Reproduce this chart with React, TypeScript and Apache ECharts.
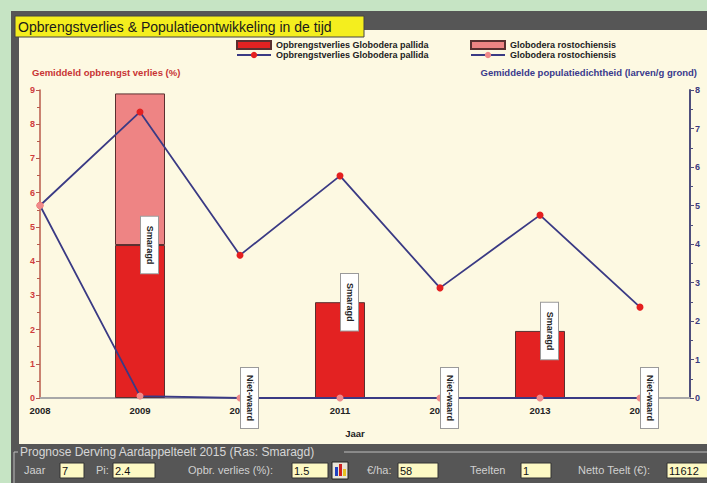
import React, { useEffect, useRef } from "react";
import * as echarts from "echarts";

// ---- data ----
const years = [2008, 2009, 2010, 2011, 2012, 2013, 2014];
const pallidaLoss = [null, 4.47, null, 2.8, null, 1.96, null];
const rostochiensisLoss = [null, 4.43, null, null, null, null, null];
const pallidaPop = [5.0, 7.43, 3.71, 5.77, 2.86, 4.75, 2.36];
const rostochiensisPop = [5.0, 0.05, 0, 0, 0, 0, 0];
const varietyLabels = ["", "Smaragd", "Niet-waard", "Smaragd", "Niet-waard", "Smaragd", "Niet-waard"];

const titleText = "Opbrengstverlies & Populatieontwikkeling in de tijd";
const leftAxisTitle = "Gemiddeld opbrengst verlies (%)";
const rightAxisTitle = "Gemiddelde populatiedichtheid (larven/g grond)";
const xAxisTitle = "Jaar";
const legendNames = {
  pallidaBar: "Opbrengstverlies Globodera pallida",
  pallidaLine: "Opbrengstverlies Globodera pallida",
  rostoBar: "Globodera rostochiensis",
  rostoLine: "Globodera rostochiensis",
};
const panelTitle = "Prognose Derving Aardappelteelt 2015 (Ras: Smaragd)";
const fieldLabels = ["Jaar", "Pi:", "Opbr. verlies (%):", "€/ha:", "Teelten", "Netto Teelt (€):"];
const fieldValues = ["7", "2.4", "1.5", "58", "1", "11612"];

// layout for the bottom form (positions only)
const fieldLabelX = [24, 96, 188, 367, 470, 578];
const fieldBoxX = [60, 113, 292, 398, 521, 667];
const fieldBoxW = [24, 42, 36, 40, 30, 42];

const FONT = "'Liberation Sans', Arial, sans-serif";

export default function App() {
  const ref = useRef<HTMLDivElement>(null);

  useEffect(() => {
    if (!ref.current) return;
    const chart = echarts.init(ref.current, null, { renderer: "svg" });

    const labelPoints = years
      .map((y, i) => ({ value: [y, pallidaLoss[i] ?? 0], text: varietyLabels[i] }))
      .filter((d) => d.text);
    const labelTexts = labelPoints.map((d) => d.text);

    const graphic: any[] = [];
    // frame
    graphic.push({ type: "rect", z: -10, shape: { x: 11, y: 11, width: 696, height: 472 }, style: { fill: "#565656" } });
    graphic.push({ type: "rect", z: -9, shape: { x: 19, y: 30, width: 688, height: 414 }, style: { fill: "#fdf9e2" } });
    // title
    graphic.push({ type: "rect", z: -8, shape: { x: 15, y: 16, width: 349, height: 21 }, style: { fill: "#f4ee1e", stroke: "#444", lineWidth: 1 } });
    graphic.push({ type: "text", z: 10, x: 18, y: 27, style: { text: titleText, fill: "#1a1a1a", font: `14px ${FONT}`, align: "left", verticalAlign: "middle" } });
    // axis titles
    graphic.push({ type: "text", z: 10, x: 32, y: 72, style: { text: leftAxisTitle, fill: "#c83434", font: `bold 9.5px ${FONT}`, align: "left", verticalAlign: "middle" } });
    graphic.push({ type: "text", z: 10, x: 697, y: 72, style: { text: rightAxisTitle, fill: "#3a3a8c", font: `bold 9.5px ${FONT}`, align: "right", verticalAlign: "middle" } });
    // bottom panel
    graphic.push({ type: "polyline", z: 1, shape: { points: [[14, 483], [14, 452], [18, 452]] }, style: { stroke: "#bdbdbd", lineWidth: 1, fill: null } });
    graphic.push({ type: "line", z: 1, shape: { x1: 344, y1: 452, x2: 707, y2: 452 }, style: { stroke: "#bdbdbd", lineWidth: 1 } });
    graphic.push({ type: "text", z: 10, x: 20, y: 452, style: { text: panelTitle, fill: "#d6d6d6", font: `12px ${FONT}`, align: "left", verticalAlign: "middle" } });
    fieldLabels.forEach((lab, i) => {
      graphic.push({ type: "text", z: 10, x: fieldLabelX[i], y: 470, style: { text: lab, fill: "#d0d0d0", font: `11px ${FONT}`, align: "left", verticalAlign: "middle" } });
      graphic.push({ type: "rect", z: 5, shape: { x: fieldBoxX[i], y: 463, width: fieldBoxW[i], height: 15 }, style: { fill: "#fdf9c4", stroke: "#333", lineWidth: 1 } });
      graphic.push({ type: "text", z: 10, x: fieldBoxX[i] + 2, y: 470.5, style: { text: fieldValues[i], fill: "#111", font: `11px ${FONT}`, align: "left", verticalAlign: "middle" } });
    });
    // small chart icon button
    graphic.push({ type: "rect", z: 5, shape: { x: 332, y: 462, width: 16, height: 17 }, style: { fill: "#e8e4d8", stroke: "#222", lineWidth: 1 } });
    graphic.push({ type: "rect", z: 6, shape: { x: 335, y: 467, width: 3, height: 9 }, style: { fill: "#2040c0" } });
    graphic.push({ type: "rect", z: 6, shape: { x: 339, y: 464, width: 3, height: 12 }, style: { fill: "#d02020" } });
    graphic.push({ type: "rect", z: 6, shape: { x: 343, y: 469, width: 3, height: 7 }, style: { fill: "#e8c020" } });

    const legendCommon = {
      orient: "vertical",
      top: 35,
      itemWidth: 34,
      itemHeight: 8,
      itemGap: 0,
      itemTextGap: 9,
      selectedMode: false,
      textStyle: { fontSize: 9, fontWeight: "bold", color: "#222", fontFamily: FONT, lineHeight: 10 },
      formatter: (n: string) => (legendNames as any)[n] ?? n,
    };

    chart.setOption({
      animation: false,
      backgroundColor: "#c6e4c4",
      graphic,
      legend: [
        { ...legendCommon, left: 231, data: [{ name: "pallidaBar", icon: "rect" }, { name: "pallidaLine" }] },
        { ...legendCommon, left: 465, data: [{ name: "rostoBar", icon: "rect" }, { name: "rostoLine" }] },
      ],
      grid: { left: 40, right: 17, top: 90, bottom: 85 },
      xAxis: {
        type: "value",
        min: 2008,
        max: 2014.5,
        interval: 1,
        name: xAxisTitle,
        nameLocation: "middle",
        nameGap: 30,
        nameTextStyle: { fontSize: 9.5, fontWeight: "bold", color: "#222", fontFamily: FONT, padding: [0, 20, 0, 0] },
        axisLine: { lineStyle: { color: "#a8a8a8", width: 2 } },
        axisTick: { show: false },
        splitLine: { show: false },
        axisLabel: {
          showMaxLabel: false,
          margin: 7,
          formatter: (v: number) => String(v),
          fontSize: 9.5,
          fontWeight: "bold",
          color: "#222",
          fontFamily: FONT,
        },
      },
      yAxis: [
        {
          type: "value",
          min: 0,
          max: 9,
          interval: 1,
          position: "left",
          axisLine: { show: true, lineStyle: { color: "#b85a4a", width: 1.5 } },
          axisTick: { show: true, length: 4, lineStyle: { color: "#b85a4a" } },
          minorTick: { show: true, splitNumber: 2, length: 3, lineStyle: { color: "#b85a4a" } },
          splitLine: { show: false },
          axisLabel: { margin: 5, fontSize: 9, fontWeight: "bold", color: "#d03c3c", fontFamily: FONT },
        },
        {
          type: "value",
          min: 0,
          max: 8,
          interval: 1,
          position: "right",
          axisLine: { show: true, lineStyle: { color: "#4e4e7c", width: 2 } },
          axisTick: { show: true, length: 4, lineStyle: { color: "#4e4e7c" } },
          minorTick: { show: true, splitNumber: 2, length: 3, lineStyle: { color: "#4e4e7c" } },
          splitLine: { show: false },
          axisLabel: { margin: 5, fontSize: 9, fontWeight: "bold", color: "#3a3a80", fontFamily: FONT },
        },
      ],
      series: [
        {
          name: "pallidaBar",
          type: "bar",
          stack: "loss",
          barWidth: 50,
          yAxisIndex: 0,
          z: 2,
          encode: { x: 1, y: 0 },
          itemStyle: { color: "#e32222", borderColor: "#5a3030", borderWidth: 1 },
          data: years.map((y, i) => [pallidaLoss[i], y]),
        },
        {
          name: "rostoBar",
          type: "bar",
          stack: "loss",
          barWidth: 50,
          yAxisIndex: 0,
          z: 2,
          encode: { x: 1, y: 0 },
          itemStyle: { color: "#ee8484", borderColor: "#5a3030", borderWidth: 1 },
          data: years.map((y, i) => [rostochiensisLoss[i], y]),
        },
        {
          name: "pallidaLine",
          type: "line",
          yAxisIndex: 1,
          z: 4,
          symbol: "circle",
          symbolSize: 7,
          lineStyle: { color: "#3a3a84", width: 1.8 },
          itemStyle: { color: "#e42020" },
          data: years.map((y, i) => [y, pallidaPop[i]]),
        },
        {
          name: "rostoLine",
          type: "line",
          yAxisIndex: 1,
          z: 5,
          symbol: "circle",
          symbolSize: 7,
          lineStyle: { color: "#3a3a84", width: 1.8 },
          itemStyle: { color: "#f08a8a" },
          data: years.map((y, i) => [y, rostochiensisPop[i]]),
        },
        {
          name: "variety",
          type: "custom",
          yAxisIndex: 0,
          z: 8,
          clip: false,
          data: labelPoints.map((d) => d.value),
          renderItem: (params: any, api: any) => {
            const p = api.coord([api.value(0), api.value(1)]);
            const t = labelTexts[params.dataIndex];
            return {
              type: "text",
              x: p[0] + 9.5,
              y: p[1],
              rotation: -Math.PI / 2,
              style: {
                text: t,
                fill: "#222",
                font: `bold 9px ${FONT}`,
                align: "center",
                verticalAlign: "middle",
                backgroundColor: "#ffffff",
                borderColor: "#9a9a9a",
                borderWidth: 1,
                padding: t === "Smaragd" ? [4, 9] : [4, 7],
              },
            };
          },
        },
      ],
    });

    return () => chart.dispose();
  }, []);

  return (
    <div
      ref={ref}
      style={{ position: "fixed", left: 0, top: 0, width: 707, height: 483 }}
    />
  );
}
